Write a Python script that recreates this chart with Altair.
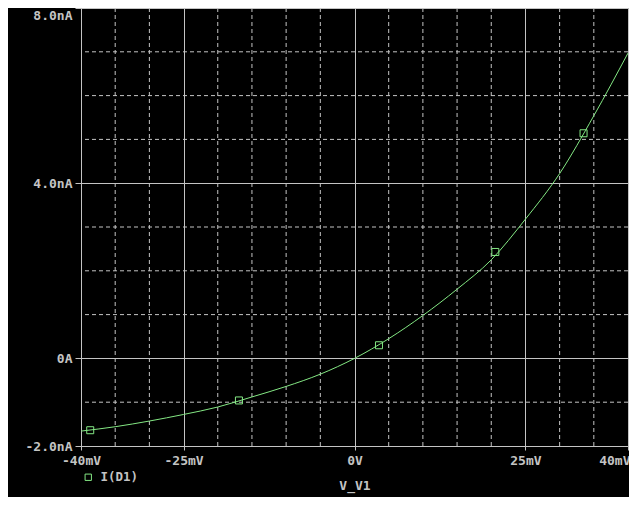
import altair as alt
import pandas as pd

# ---- data ----
v_mv = [-40, -35, -30, -25, -20, -15, -10, -5, 0, 5, 10, 15, 20, 25, 30, 35, 40]
i_na = [-1.66, -1.56, -1.43, -1.28, -1.11, -0.88, -0.64, -0.36, 0.0, 0.45, 0.98,
        1.58, 2.25, 3.18, 4.22, 5.54, 6.97]

marker_v = [-38.65, -16.9, 3.58, 20.6, 33.5]
marker_i = [-1.64, -0.96, 0.30, 2.43, 5.14]

series_name = "I(D1)"

x_ticks = [-40, -25, 0, 25, 40]
x_tick_labels = ["-40mV", "-25mV", "0V", "25mV", "40mV"]
y_ticks = [-2, 0, 4, 8]
y_tick_labels = ["-2.0nA", "0A", "4.0nA", "8.0nA"]

x_minor = [-35, -30, -20, -15, -10, -5, 5, 10, 15, 20, 30, 35]
y_minor = [-1, 1, 2, 3, 5, 6, 7]

# ---- styles ----
GREEN = "#84e884"
GRAY = "#c4c4c4"
FONT = "DejaVu Sans Mono"


def label_expr(vals, labels):
    expr = "''"
    for v, l in reversed(list(zip(vals, labels))):
        expr = f"datum.value == {v} ? '{l}' : ({expr})"
    return expr


curve_df = pd.DataFrame({"v": v_mv, "i": i_na})
marker_df = pd.DataFrame({"v": marker_v, "i": marker_i, "series": [series_name] * len(marker_v)})
xminor_df = pd.DataFrame({"v": x_minor})
yminor_df = pd.DataFrame({"i": y_minor})

x_scale = alt.Scale(domain=[-40, 40], nice=False, zero=False)
y_scale = alt.Scale(domain=[-2, 8], nice=False, zero=False)

x_axis = alt.Axis(
    values=x_ticks,
    labelExpr=label_expr(x_ticks, x_tick_labels),
    title="V_V1",
    grid=True,
    gridColor=GRAY,
    gridOpacity=1,
    tickSize=4,
    labelPadding=4,
    labelAlign={"condition": {"test": "datum.value == 40", "value": "right"}, "value": "center"},
    labelOffset={"condition": {"test": "datum.value == 40", "value": 2}, "value": 0},
    titlePadding=12,
)
y_axis = alt.Axis(
    values=y_ticks,
    labelExpr=label_expr(y_ticks, y_tick_labels),
    title=None,
    grid=True,
    gridColor=GRAY,
    gridOpacity=1,
    tickSize=6,
    labelPadding=3,
    labelBaseline={"condition": {"test": "datum.value == 8", "value": "top"}, "value": "middle"},
    labelOffset={"condition": {"test": "datum.value == 8", "value": 1}, "value": 0},
)

xminor = alt.Chart(xminor_df).mark_rule(color=GRAY, strokeDash=[4, 3], strokeWidth=1).encode(
    x=alt.X("v:Q", scale=x_scale, axis=x_axis)
)
yminor = alt.Chart(yminor_df).mark_rule(color=GRAY, strokeDash=[4, 3], strokeWidth=1).encode(
    y=alt.Y("i:Q", scale=y_scale, axis=y_axis)
)

curve = alt.Chart(curve_df).mark_line(color=GREEN, strokeWidth=1, interpolate="monotone").encode(
    x=alt.X("v:Q", scale=x_scale, axis=x_axis),
    y=alt.Y("i:Q", scale=y_scale, axis=y_axis),
)

markers = alt.Chart(marker_df).mark_point(shape="square", filled=False, size=49, strokeWidth=1, opacity=1).encode(
    x=alt.X("v:Q", scale=x_scale, axis=x_axis),
    y=alt.Y("i:Q", scale=y_scale, axis=y_axis),
    color=alt.Color(
        "series:N",
        scale=alt.Scale(domain=[series_name], range=[GREEN]),
        legend=alt.Legend(
            title=None,
            orient="none",
            legendX=1,
            legendY=463,
            symbolType="square",
            symbolSize=40,
            symbolStrokeWidth=1,
            symbolFillColor="transparent",
            labelColor=GRAY,
            labelFont=FONT,
            labelFontSize=12.5,
            labelFontWeight="bold",
            labelOffset=6,
            padding=0,
        ),
    ),
)

chart = (
    alt.layer(xminor, yminor, curve, markers)
    .properties(
        width=547,
        height=438,
        background="black",
        padding={"left": 73, "top": 0, "right": 1, "bottom": 51},
        autosize=alt.AutoSizeParams(type="none"),
    )
    .configure_view(stroke=GRAY, strokeWidth=1)
    .configure_axis(
        domain=False,
        tickColor=GRAY,
        labelColor=GRAY,
        titleColor=GRAY,
        labelFont=FONT,
        titleFont=FONT,
        labelFontSize=13,
        labelFontWeight="bold",
        titleFontSize=13,
        titleFontWeight="bold",
    )
)

chart.save("out.html", embed_options={"renderer": "svg", "actions": False})
